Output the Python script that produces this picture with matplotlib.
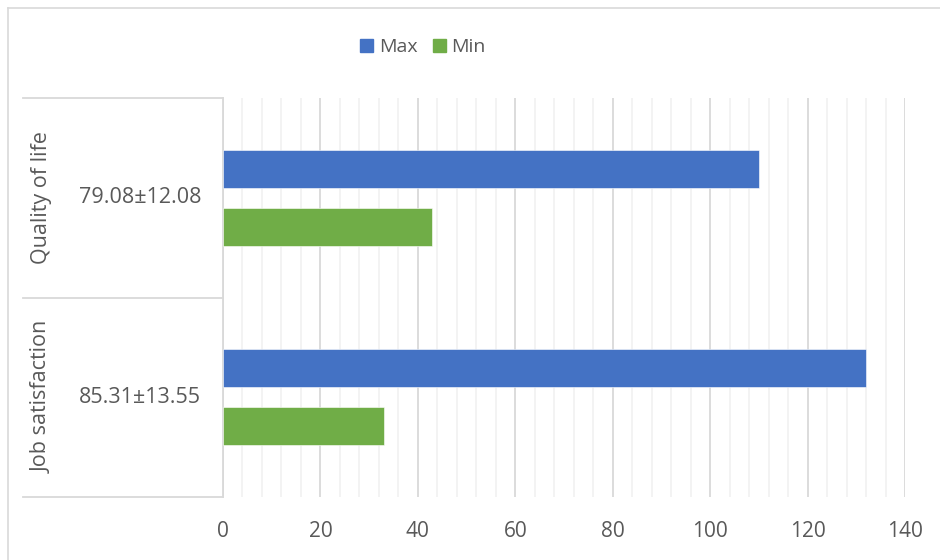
import numpy as np
import matplotlib
matplotlib.use('Agg')
import matplotlib.pyplot as plt
from matplotlib.lines import Line2D
from matplotlib.patches import Patch
import matplotlib.transforms as mtransforms

# data
groups = ['Quality of life', 'Job satisfaction']
sub_labels = ['79.08±12.08', '85.31±13.55']
max_vals = [110, 132]
min_vals = [43, 33]
x_ticks = [0, 20, 40, 60, 80, 100, 120, 140]

BLUE = '#4472C4'
GREEN = '#70AD47'
TEXT = '#595959'
GRID = '#D9D9D9'
MINOR = '#F2F2F2'

plt.rcParams['font.family'] = ['Open Sans', 'DejaVu Sans']

fig = plt.figure(figsize=(9.4, 5.6), dpi=100)
ax = fig.add_axes([223 / 940, 1 - 497 / 560, 682 / 940, 399 / 560])

y = np.arange(len(groups))
h = 0.19
off = 0.145
ax.barh(y - off, max_vals, height=h, color=BLUE, edgecolor='white', linewidth=0.4, label='Max', zorder=3)
ax.barh(y + off, min_vals, height=h, color=GREEN, edgecolor='white', linewidth=0.4, label='Min', zorder=3)

ax.set_xlim(0, 140)
ax.set_ylim(1.5, -0.5)
ax.set_xticks(x_ticks)
ax.set_xticks(np.arange(0, 141, 4), minor=True)
ax.grid(axis='x', which='major', color=GRID, linewidth=1.3, zorder=0)
ax.grid(axis='x', which='minor', color=MINOR, linewidth=1.3, zorder=0)
ax.tick_params(axis='x', which='both', length=0, labelsize=15, colors=TEXT, pad=17)
ax.set_yticks([])
for s in ['top', 'right', 'bottom']:
    ax.spines[s].set_visible(False)
ax.spines['left'].set_color(GRID)
ax.spines['left'].set_linewidth(1.3)

# two-level category labels on the left
trans = mtransforms.blended_transform_factory(ax.transAxes, ax.transData)
x_edge = -0.2933
for b in [-0.5, 0.5, 1.5]:
    ax.add_line(Line2D([x_edge, 0], [b, b], transform=trans, color=GRID,
                       linewidth=1.3, clip_on=False))
for i, (g, s) in enumerate(zip(groups, sub_labels)):
    ax.text(-0.2654, i, g, transform=trans, rotation=90, ha='center', va='center',
            fontsize=15.5, color=TEXT)
    ax.text(-0.1217, i, s, transform=trans, ha='center', va='center',
            fontsize=15.5, color=TEXT)

# chart area border (only left and top edges are inside the image)
fig.add_artist(Line2D([8 / 940, 8 / 940], [0, 1 - 8 / 560], color=GRID, linewidth=1.2))
fig.add_artist(Line2D([8 / 940, 1], [1 - 8 / 560, 1 - 8 / 560], color=GRID, linewidth=1.2))

handles = [Patch(color=BLUE, label='Max'), Patch(color=GREEN, label='Min')]
fig.legend(handles=handles, loc='center', bbox_to_anchor=(423 / 940, 1 - 47 / 560),
           ncol=2, frameon=False, fontsize=14, labelcolor=TEXT,
           handlelength=0.65, handleheight=0.65, handletextpad=0.3, columnspacing=0.8)

fig.savefig('out.png', dpi=100)
